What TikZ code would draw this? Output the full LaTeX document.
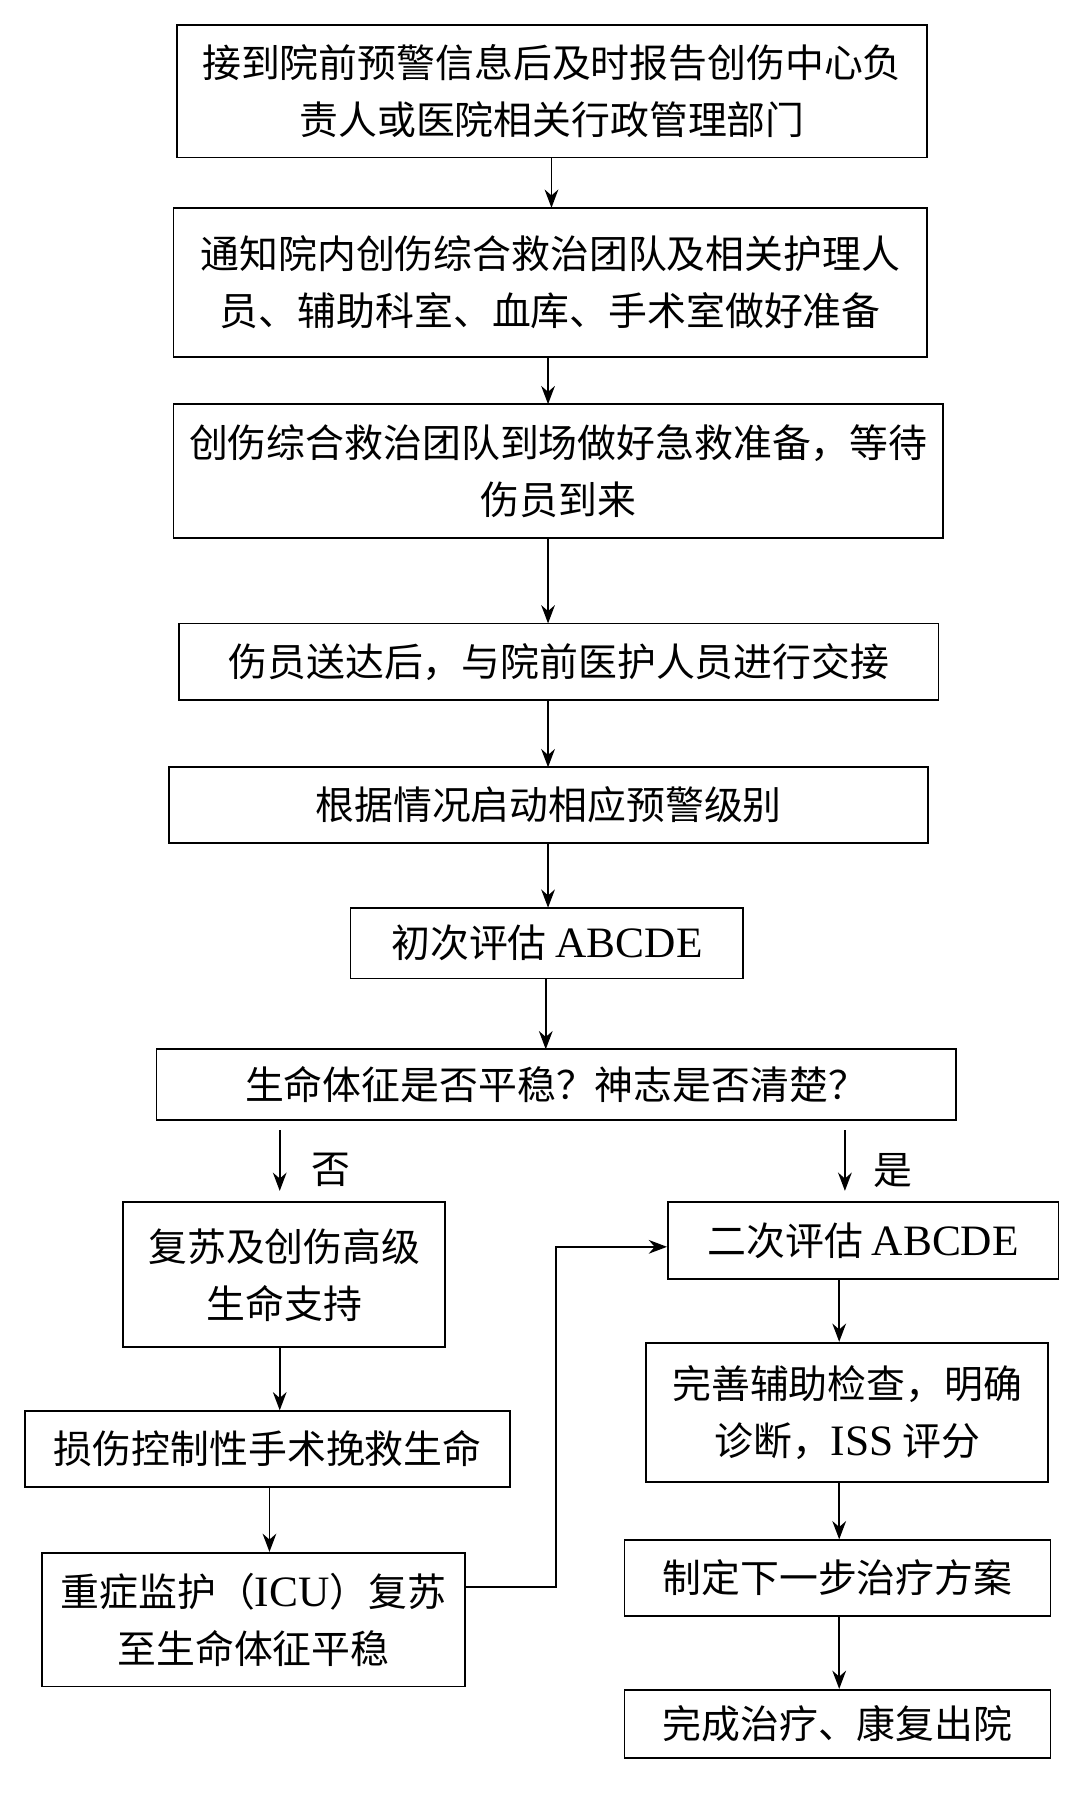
\documentclass[tikz,border=0pt]{standalone}
\usepackage{fontspec}
\setmainfont{Liberation Serif}
\newfontfamily\cjk{Noto Sans CJK SC}[Scale=0.92]
\usetikzlibrary{arrows.meta}
\begin{document}
\begin{tikzpicture}[x=1pt,y=-1pt,
  bx/.style={draw,line width=1.6pt,inner sep=0pt,align=center,font=\cjk\fontsize{37}{50}\selectfont},
  ar/.style={-{Stealth[length=16pt,width=12pt]},line width=1.6pt},
  lbl/.style={font=\cjk\fontsize{37}{40}\selectfont}]
\useasboundingbox[fill=white] (0,0) rectangle (945,1580);
\newcommand\bxat[6]{\node[bx,minimum width=#3-#2,minimum height=#5-#4] (#1) at ({(#2+#3)/2},{(#4+#5)/2}) {#6};}
\bxat{b1}{155}{812}{22}{138}{接到院前预警信息后及时报告创伤中心负\\责人或医院相关行政管理部门}
\bxat{b2}{152}{812}{182}{313}{通知院内创伤综合救治团队及相关护理人\\员、辅助科室、血库、手术室做好准备}
\bxat{b3}{152}{826}{354}{471}{创伤综合救治团队到场做好急救准备，等待\\伤员到来}
\bxat{b4}{157}{822}{546}{613}{伤员送达后，与院前医护人员进行交接}
\bxat{b5}{148}{813}{672}{738}{根据情况启动相应预警级别}
\bxat{b6}{307}{651}{795}{857}{初次评估 {\rmfamily\fontsize{38}{50}\selectfont ABCDE}}
\bxat{b7}{137}{837}{919}{981}{生命体征是否平稳？神志是否清楚？}
\bxat{l1}{108}{390}{1053}{1180}{复苏及创伤高级\\生命支持}
\bxat{l2}{22}{447}{1236}{1302}{损伤控制性手术挽救生命}
\bxat{l3}{37}{407}{1360}{1477}{重症监护（{\rmfamily\fontsize{38}{50}\selectfont ICU}）复苏\\至生命体征平稳}
\bxat{r1}{585}{927}{1053}{1120}{二次评估 {\rmfamily\fontsize{38}{50}\selectfont ABCDE}}
\bxat{r2}{566}{918}{1176}{1298}{完善辅助检查，明确\\诊断，{\rmfamily\fontsize{38}{50}\selectfont ISS} 评分}
\bxat{r3}{547}{920}{1349}{1415}{制定下一步治疗方案}
\bxat{r4}{547}{920}{1480}{1540}{完成治疗、康复出院}
\draw[ar] (483,138) -- (483,182);
\draw[ar] (480,313) -- (480,354);
\draw[ar] (480,471) -- (480,546);
\draw[ar] (480,613) -- (480,672);
\draw[ar] (480,738) -- (480,795);
\draw[ar] (478,857) -- (478,919);
\coordinate (n0) at (245,990); \coordinate (y0) at (740,990);
\draw[ar] (n0) -- (245,1043);
\draw[ar] (y0) -- (740,1043);
\node[lbl] (nl) at (290,1025) {否};
\node[lbl] (yl) at (782,1025) {是};
\draw[ar] (l1.south -| 245,0) -- (l2.north -| 245,0);
\draw[ar] (l2.south -| 236,0) -- (l3.north -| 236,0);
\draw[ar] (l3.east |- 0,1390) -- (487,1390) |- (r1.west |- 0,1092);
\draw[ar] (r1.south -| 735,0) -- (r2.north -| 735,0);
\draw[ar] (r2.south -| 735,0) -- (r3.north -| 735,0);
\draw[ar] (r3.south -| 735,0) -- (r4.north -| 735,0);
\end{tikzpicture}
\end{document}
